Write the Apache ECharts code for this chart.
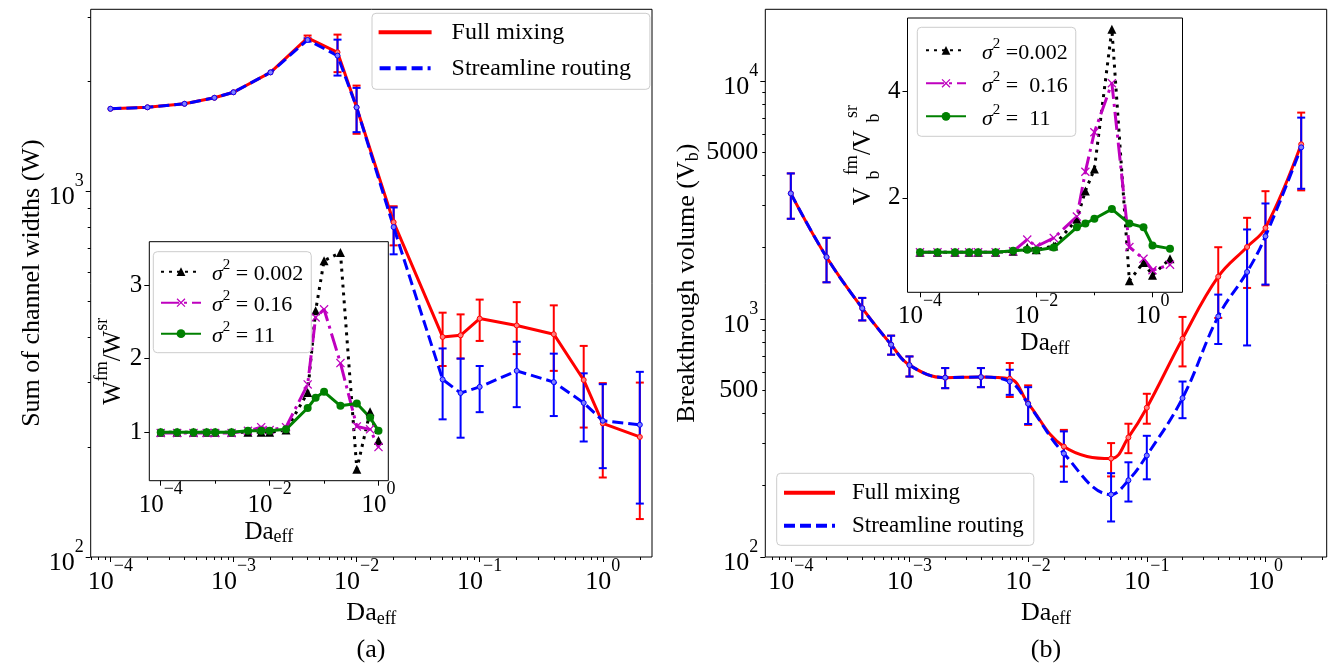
<!DOCTYPE html>
<html>
<head>
<meta charset="utf-8">
<script src="https://cdn.jsdelivr.net/npm/echarts@6.0.0/dist/echarts.min.js"></script>
<style>
html,body{margin:0;padding:0;background:#ffffff;}
#chart{width:1330px;height:667px;}
</style>
</head>
<body>
<div id="chart"></div>
<script>
const FONT = "'Liberation Serif', 'Times New Roman', serif";

// ---------------- data ----------------
const daMain = [0.0001,0.0002,0.0004,0.0007,0.001,0.002,0.004,0.007,0.01,0.02,0.05,0.07,0.1,0.2,0.4,0.7,1,2];
const daInsetA = [0.0001,0.0002,0.0004,0.0007,0.001,0.002,0.004,0.007,0.01,0.02,0.05,0.07,0.1,0.2,0.4,0.7,1];
const daInsetB = [0.0001,0.0002,0.0004,0.0007,0.001,0.002,0.004,0.007,0.01,0.02,0.05,0.07,0.1,0.2,0.4,0.7,1,2];

// (a) sum of channel widths
const widthFM    = [1683,1699,1737,1804,1868,2117,2630,2402,1699,824,400,404,449,430,407,305,232,213];
const widthSR    = [1683,1699,1737,1804,1868,2117,2597,2353,1699,799,306,281,292,323,301,264,236,230];
const widthFMLow = [null,null,null,null,null,null,2590,2120,1438,712,333,349,390,359,323,226,165,127];
const widthFMHigh= [null,null,null,null,null,null,2670,2686,1948,911,466,461,506,498,488,378,299,300];
const widthSRLow = [null,null,null,null,null,null,2570,2075,1453,673,238,212,249,257,243,207,175,140];
const widthSRHigh= [null,null,null,null,null,null,2625,2602,1920,904,372,349,333,388,360,318,297,321];

// (a) inset: W_fm / W_sr
const ratioW002 = [1.0,1.0,1.0,1.0,1.0,1.0,1.0,1.0,1.0,1.03,1.54,2.65,3.33,3.44,0.5,1.28,0.89];
const ratioW016 = [0.99,0.99,0.99,0.99,0.99,0.99,1.02,1.07,1.03,1.07,1.65,2.56,2.67,1.94,1.08,1.04,0.8];
const ratioW11  = [1.0,1.0,1.0,1.0,1.0,1.0,1.02,1.02,1.02,1.04,1.33,1.47,1.55,1.36,1.39,1.2,1.02];

// (b) breakthrough volume
const volFM     = [3370,1820,1110,780,640,567,570,561,442,291,259,318,424,826,1506,2006,2414,5416];
const volSR     = [3370,1820,1110,780,640,567,570,546,440,272,183,210,267,465,1025,1576,2226,5260];
const volFMLow  = [2636,1426,986,708,573,512,517,470,359,240,218,273,363,632,1010,1350,1385,3470];
const volFMHigh = [4088,2193,1226,851,696,622,622,653,526,342,301,363,485,1020,2002,2661,3443,7362];
const volSRLow  = [2636,1426,986,708,573,512,517,480,362,207,141,171,212,383,785,774,1395,3524];
const volSRHigh = [4088,2193,1226,851,696,622,622,612,517,337,225,250,323,546,1266,2377,3057,7014];

// (b) inset: Vb_fm / Vb_sr
const ratioV002 = [0.98,0.98,0.98,0.98,0.98,0.98,1.0,1.07,1.03,1.1,1.6,2.13,2.54,5.16,0.45,0.79,0.55,0.86];
const ratioV016 = [0.98,0.98,0.98,0.98,0.98,0.98,1.0,1.22,1.09,1.25,1.65,2.49,3.23,4.15,1.08,0.86,0.645,0.75];
const ratioV11  = [0.98,0.98,0.98,0.98,0.98,0.98,1.01,1.03,1.02,1.07,1.45,1.52,1.61,1.79,1.52,1.45,1.11,1.05];

// tick values
const decadeTicks   = [0.0001,0.001,0.01,0.1,1];
const insetXLabels  = [0.0001,0.01,1];
const insetXMinor   = [0.001,0.1];
const widthYLabels  = [100,1000];
const volYMajor     = [100,1000,10000];
const volYLabels    = [100,500,1000,5000,10000];
const ratioWYLabels = [1,2,3];
const ratioVYLabels = [2,4];

// axis ranges
const rangeXA  = [Math.pow(10,-4.16), Math.pow(10,0.40)];
const rangeYA  = [100, 3150];
const rangeXIA = [Math.pow(10,-4.21), Math.pow(10,0.18)];
const rangeYIA = [0.343, 3.588];
const rangeXB  = [Math.pow(10,-4.215), Math.pow(10,0.516)];
const rangeYB  = [100, 20000];
const rangeXIB = [Math.pow(10,-4.215), Math.pow(10,0.516)];
const rangeYIB = [0.232, 5.37];

// ---------------- helpers ----------------
function minorLog(lo, hi) {
  const out = [];
  for (let e = Math.floor(Math.log10(lo)); e <= Math.ceil(Math.log10(hi)); e++) {
    for (let k = 2; k <= 9; k++) {
      const v = k * Math.pow(10, e);
      if (v > lo && v < hi) out.push(v);
    }
  }
  return out;
}
function tickRich(size) {
  const s = Math.round(size * 0.7);
  return {
    b: {fontSize: size, lineHeight: size, fontFamily: FONT, color: '#000', verticalAlign: 'bottom'},
    s: {fontSize: s, lineHeight: size + 12, fontFamily: FONT, color: '#000', verticalAlign: 'top'}
  };
}
function fmtLog(v) {
  const l = Math.log10(v), e = Math.round(l);
  if (Math.abs(l - e) < 1e-6) return '{b|10}{s|' + (e < 0 ? '\u2212' + (-e) : String(e)) + '}';
  return '{b|' + Math.round(v) + '}';
}
function fmtLin(v) { return '{b|' + Math.round(v) + '}'; }

function majorAxis(gi, type, range, tickVals, labelVals, size, isX, extra) {
  return Object.assign({
    type: type, gridIndex: gi, min: range[0], max: range[1],
    position: isX ? 'bottom' : 'left',
    axisLine: {show: false, onZero: false},
    axisTick: {show: true, length: 5, lineStyle: {color: '#000', width: 1}, customValues: tickVals},
    axisLabel: {show: true, customValues: labelVals, formatter: type === 'log' ? fmtLog : fmtLin,
                rich: tickRich(size), margin: isX ? 0 : 7, color: '#000'},
    splitLine: {show: false}
  }, extra || {});
}
function minorAxis(gi, type, range, vals, isX) {
  return {
    type: type, gridIndex: gi, min: range[0], max: range[1],
    position: isX ? 'bottom' : 'left',
    axisLine: {show: false, onZero: false},
    axisTick: {show: true, length: 3, lineStyle: {color: '#000', width: 1}, customValues: vals},
    axisLabel: {show: false, customValues: vals},
    splitLine: {show: false}
  };
}
function subRich(size) {
  return {
    t: {fontSize: size, lineHeight: size + 4, fontFamily: FONT, color: '#000', verticalAlign: 'middle'},
    sb: {fontSize: Math.round(size * 0.7), lineHeight: 14, fontFamily: FONT, color: '#000', verticalAlign: 'bottom'}
  };
}
function fracRich(size) {
  const s = Math.round(size * 0.7);
  return {
    t: {fontSize: size, lineHeight: size, fontFamily: FONT, color: '#000', verticalAlign: 'middle'},
    sp: {fontSize: s, lineHeight: 40, fontFamily: FONT, color: '#000', verticalAlign: 'top'},
    sb: {fontSize: s, lineHeight: s, fontFamily: FONT, color: '#000', verticalAlign: 'bottom', width: 0, padding: [0,0,0,12]}
  };
}
function pairs(xs, ys) { return xs.map((x, i) => [x, ys[i]]); }
function errSeries(name, xs, lo, hi, color, xi, yi) {
  const data = [];
  for (let i = 0; i < xs.length; i++) if (lo[i] != null) data.push([xs[i], lo[i], hi[i]]);
  return {
    type: 'custom', name: name, xAxisIndex: xi, yAxisIndex: yi, data: data, silent: true,
    encode: {x: 0, y: [1, 2]},
    renderItem: function (params, api) {
      const x = api.value(0);
      const a = api.coord([x, api.value(1)]);
      const b = api.coord([x, api.value(2)]);
      const w = 4, st = {stroke: color, lineWidth: 2};
      return {type: 'group', children: [
        {type: 'line', shape: {x1: a[0], y1: a[1], x2: b[0], y2: b[1]}, style: st},
        {type: 'line', shape: {x1: a[0] - w, y1: a[1], x2: a[0] + w, y2: a[1]}, style: st},
        {type: 'line', shape: {x1: b[0] - w, y1: b[1], x2: b[0] + w, y2: b[1]}, style: st}
      ]};
    }
  };
}
const XMARK = 'path://M0,1L1,0L5,4L9,0L10,1L6,5L10,9L9,10L5,6L1,10L0,9L4,5Z';
const DASH = 'path://M0,0H11V4H0ZM16,0H27V4H16ZM32,0H43V4H32ZM48,0H51V4H48Z';

const LBL = {
  fmA: 'Full mixing', srA: 'Streamline routing', fmB: 'Full mixing', srB: 'Streamline routing',
  a002: '{i|\u03c3}{p|2}{t| = 0.002}', a016: '{i|\u03c3}{p|2}{t| = 0.16}', a11: '{i|\u03c3}{p|2}{t| = 11}',
  b002: '{i|\u03c3}{p|2}{t| =0.002}', b016: '{i|\u03c3}{p|2}{t| =  0.16}', b11: '{i|\u03c3}{p|2}{t| =  11}'
};
function sigmaRich(size, padL) {
  return {
    i: {fontSize: size, lineHeight: size, fontFamily: FONT, fontStyle: 'italic', color: '#000', verticalAlign: 'bottom', padding: [0,0,0,padL]},
    p: {fontSize: 15, lineHeight: 28, fontFamily: FONT, color: '#000', verticalAlign: 'top'},
    t: {fontSize: size, lineHeight: size, fontFamily: FONT, color: '#000', verticalAlign: 'bottom'}
  };
}
const legendBox = {backgroundColor: 'rgba(255,255,255,0.8)', borderColor: '#cccccc', borderWidth: 1, borderRadius: 4, selectedMode: false, orient: 'vertical'};

// ---------------- option ----------------
const option = {
  animation: false,
  backgroundColor: '#ffffff',
  textStyle: {fontFamily: FONT},
  grid: [
    {left: 90.7, top: 9.3, width: 561.3, height: 547.7, show: true, borderColor: '#000', borderWidth: 1, backgroundColor: 'transparent'},
    {left: 149.3, top: 241.7, width: 239, height: 239, show: true, borderColor: '#000', borderWidth: 1, backgroundColor: '#ffffff'},
    {left: 765.3, top: 9.3, width: 561.4, height: 547.7, show: true, borderColor: '#000', borderWidth: 1, backgroundColor: 'transparent'},
    {left: 907.5, top: 18, width: 275, height: 274.3, show: true, borderColor: '#000', borderWidth: 1, backgroundColor: '#ffffff'}
  ],
  xAxis: [
    majorAxis(0, 'log', rangeXA, decadeTicks, decadeTicks, 26, true,
      {name: '{t|Da}{sb|eff}', nameLocation: 'middle', nameGap: 38, nameTextStyle: {rich: subRich(26)}}),
    minorAxis(0, 'log', rangeXA, minorLog(rangeXA[0], rangeXA[1]), true),
    majorAxis(1, 'log', rangeXIA, insetXLabels, insetXLabels, 25, true,
      {name: '{t|Da}{sb|eff}', nameLocation: 'middle', nameGap: 37, nameTextStyle: {rich: subRich(25)}}),
    minorAxis(1, 'log', rangeXIA, insetXMinor, true),
    majorAxis(2, 'log', rangeXB, decadeTicks, decadeTicks, 26, true,
      {name: '{t|Da}{sb|eff}', nameLocation: 'middle', nameGap: 38, nameTextStyle: {rich: subRich(26)}}),
    minorAxis(2, 'log', rangeXB, minorLog(rangeXB[0], rangeXB[1]), true),
    majorAxis(3, 'log', rangeXIB, insetXLabels, insetXLabels, 25, true,
      {name: '{t|Da}{sb|eff}', nameLocation: 'middle', nameGap: 37, nameTextStyle: {rich: subRich(25)}}),
    minorAxis(3, 'log', rangeXIB, insetXMinor, true)
  ],
  yAxis: [
    majorAxis(0, 'log', rangeYA, widthYLabels, widthYLabels, 26, false,
      {name: 'Sum of channel widths (W)', nameLocation: 'middle', nameGap: 45,
       nameTextStyle: {fontSize: 26, fontFamily: FONT, color: '#000'}}),
    minorAxis(0, 'log', rangeYA, minorLog(rangeYA[0], rangeYA[1]), false),
    majorAxis(1, 'value', rangeYIA, ratioWYLabels, ratioWYLabels, 25, false,
      {name: '{t|W}{sp|fm}{t|/W}{sp|sr}', nameLocation: 'middle', nameGap: 16, nameTextStyle: {rich: fracRich(25)}}),
    majorAxis(2, 'log', rangeYB, volYMajor, volYLabels, 26, false,
      {name: '{t|Breakthrough volume (V}{sb|b}{t|)}', nameLocation: 'middle', nameGap: 62, nameTextStyle: {rich: subRich(26)}}),
    minorAxis(2, 'log', rangeYB, minorLog(rangeYB[0], rangeYB[1]), false),
    majorAxis(3, 'value', rangeYIB, ratioVYLabels, ratioVYLabels, 25, false,
      {name: '{t|V}{sb|b}{sp|fm}{t|/V}{sb|b}{sp|sr}', nameLocation: 'middle', nameGap: 24, nameTextStyle: {rich: fracRich(25)}})
  ],
  legend: [
    Object.assign({}, legendBox, {
      left: 372, top: 13.3, itemWidth: 53, itemHeight: 4, itemGap: 12, padding: [7, 19, 9, 6.6],
      data: [{name: 'fmA', icon: 'rect', itemStyle: {color: '#ff0000', borderWidth: 0}},
             {name: 'srA', icon: DASH, itemStyle: {color: '#0000ff', borderWidth: 0}}],
      formatter: n => '{t|' + LBL[n] + '}',
      textStyle: {rich: {t: {fontSize: 24, fontFamily: FONT, color: '#000', padding: [0,0,0,15]}}}
    }),
    Object.assign({}, legendBox, {
      left: 776.7, top: 473.3, itemWidth: 51, itemHeight: 4, itemGap: 10, padding: [8, 10, 8, 7.3],
      data: [{name: 'fmB', icon: 'rect', itemStyle: {color: '#ff0000', borderWidth: 0}},
             {name: 'srB', icon: DASH, itemStyle: {color: '#0000ff', borderWidth: 0}}],
      formatter: n => '{t|' + LBL[n] + '}',
      textStyle: {rich: {t: {fontSize: 23, fontFamily: FONT, color: '#000', padding: [0,0,0,12]}}}
    }),
    Object.assign({}, legendBox, {
      left: 153.3, top: 251.7, itemWidth: 40, itemHeight: 11, itemGap: 3, padding: [6, 8, 5, 6.7],
      data: ['a002', 'a016', 'a11'],
      formatter: n => LBL[n],
      textStyle: {rich: sigmaRich(22, 6)}
    }),
    Object.assign({}, legendBox, {
      left: 917.3, top: 27.3, itemWidth: 40, itemHeight: 11, itemGap: 5, padding: [9, 8, 6, 7.7],
      data: ['b002', 'b016', 'b11'],
      formatter: n => LBL[n],
      textStyle: {rich: sigmaRich(22, 11)}
    })
  ],
  graphic: [
    {type: 'text', x: 371, y: 650, style: {text: '(a)', fontSize: 26, fontFamily: FONT, fill: '#000', align: 'center', verticalAlign: 'middle'}},
    {type: 'text', x: 1046, y: 650, style: {text: '(b)', fontSize: 26, fontFamily: FONT, fill: '#000', align: 'center', verticalAlign: 'middle'}}
  ],
  series: [
    // (a) main
    {type: 'line', name: 'fmA', xAxisIndex: 0, yAxisIndex: 0, data: pairs(daMain, widthFM),
     symbol: 'circle', symbolSize: 5, lineStyle: {color: '#ff0000', width: 3},
     itemStyle: {color: '#ff8080', borderColor: '#ff0000', borderWidth: 1}},
    errSeries('fmAerr', daMain, widthFMLow, widthFMHigh, '#ff0000', 0, 0),
    {type: 'line', name: 'srA', xAxisIndex: 0, yAxisIndex: 0, data: pairs(daMain, widthSR),
     symbol: 'circle', symbolSize: 5, lineStyle: {color: '#0000ff', width: 3, type: [11, 5]},
     itemStyle: {color: '#8080ff', borderColor: '#0000ff', borderWidth: 1}},
    errSeries('srAerr', daMain, widthSRLow, widthSRHigh, '#0000ff', 0, 0),
    // (a) inset
    {type: 'line', name: 'a002', xAxisIndex: 2, yAxisIndex: 2, data: pairs(daInsetA, ratioW002),
     symbol: 'triangle', symbolSize: 9, lineStyle: {color: '#000000', width: 3, type: [3, 5]}, itemStyle: {color: '#000000'}},
    {type: 'line', name: 'a016', xAxisIndex: 2, yAxisIndex: 2, data: pairs(daInsetA, ratioW016),
     symbol: XMARK, symbolSize: 9, lineStyle: {color: '#bf00bf', width: 3, type: [18, 5, 3, 5]}, itemStyle: {color: '#bf00bf'}},
    {type: 'line', name: 'a11', xAxisIndex: 2, yAxisIndex: 2, data: pairs(daInsetA, ratioW11),
     symbol: 'circle', symbolSize: 8, lineStyle: {color: '#008000', width: 3}, itemStyle: {color: '#008000'}},
    // (b) main
    {type: 'line', name: 'fmB', xAxisIndex: 4, yAxisIndex: 3, data: pairs(daMain, volFM), smooth: 0.4,
     symbol: 'circle', symbolSize: 5, lineStyle: {color: '#ff0000', width: 3},
     itemStyle: {color: '#ff8080', borderColor: '#ff0000', borderWidth: 1}},
    errSeries('fmBerr', daMain, volFMLow, volFMHigh, '#ff0000', 4, 3),
    {type: 'line', name: 'srB', xAxisIndex: 4, yAxisIndex: 3, data: pairs(daMain, volSR), smooth: 0.4,
     symbol: 'circle', symbolSize: 5, lineStyle: {color: '#0000ff', width: 3, type: [11, 5]},
     itemStyle: {color: '#8080ff', borderColor: '#0000ff', borderWidth: 1}},
    errSeries('srBerr', daMain, volSRLow, volSRHigh, '#0000ff', 4, 3),
    // (b) inset
    {type: 'line', name: 'b002', xAxisIndex: 6, yAxisIndex: 5, data: pairs(daInsetB, ratioV002),
     symbol: 'triangle', symbolSize: 9, lineStyle: {color: '#000000', width: 3, type: [3, 5]}, itemStyle: {color: '#000000'}},
    {type: 'line', name: 'b016', xAxisIndex: 6, yAxisIndex: 5, data: pairs(daInsetB, ratioV016),
     symbol: XMARK, symbolSize: 9, lineStyle: {color: '#bf00bf', width: 3, type: [18, 5, 3, 5]}, itemStyle: {color: '#bf00bf'}},
    {type: 'line', name: 'b11', xAxisIndex: 6, yAxisIndex: 5, data: pairs(daInsetB, ratioV11),
     symbol: 'circle', symbolSize: 8, lineStyle: {color: '#008000', width: 3}, itemStyle: {color: '#008000'}}
  ]
};

const chart = echarts.init(document.getElementById('chart'), null, {renderer: 'canvas'});
chart.setOption(option);
</script>
</body>
</html>
